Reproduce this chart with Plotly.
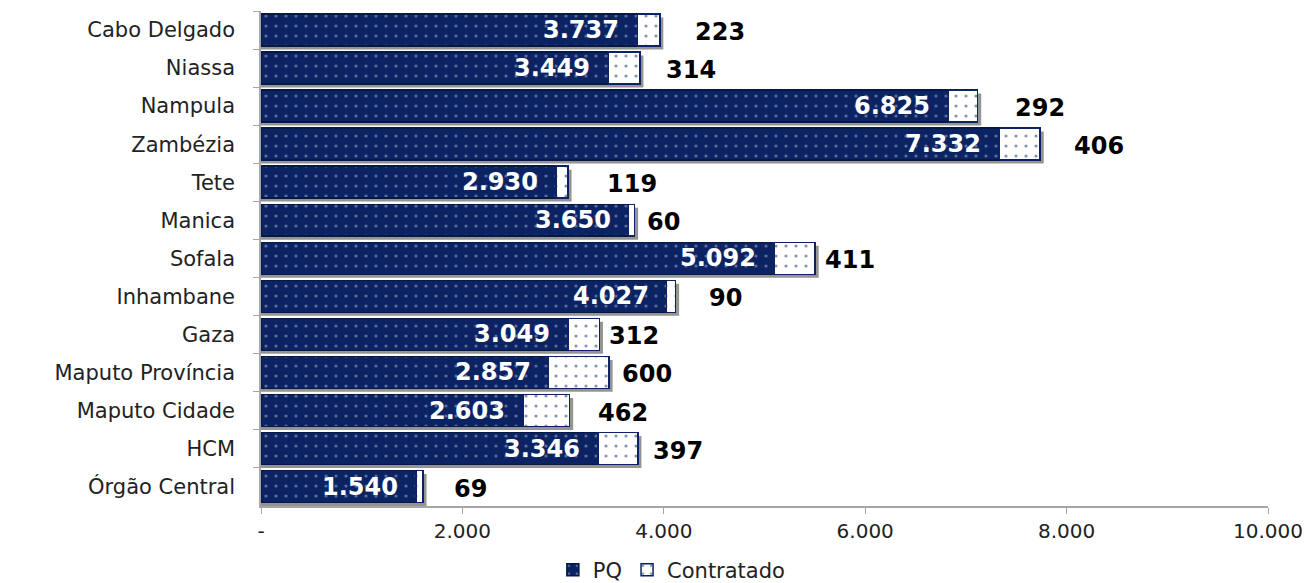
import plotly.graph_objects as go

# Budget by province: PQ allocation and contracted amount
categories = ["Cabo Delgado", "Niassa", "Nampula", "Zambézia", "Tete", "Manica",
              "Sofala", "Inhambane", "Gaza", "Maputo Província", "Maputo Cidade",
              "HCM", "Órgão Central"]
pq = [3737, 3449, 6825, 7332, 2930, 3650, 5092, 4027, 3049, 2857, 2603, 3346, 1540]
contratado = [223, 314, 292, 406, 119, 60, 411, 90, 312, 600, 462, 397, 69]

tick_vals = [0, 2000, 4000, 6000, 8000, 10000]
tick_text = ["-", "2.000", "4.000", "6.000", "8.000", "10.000"]

# pixel gap between the end of each bar and its "Contratado" label
label_gap = [33, 24, 35, 32, 37, 10, 8, 31, 8, 11, 26, 13, 29]

NAVY = "#0b2363"
FONT = "DejaVu Sans"
BAR_W = 0.84


def fmt(v):
    return f"{v:,}".replace(",", ".")


fig = go.Figure()
fig.add_trace(go.Bar(
    y=categories, x=pq, orientation="h", name="PQ", width=BAR_W,
    marker=dict(color=NAVY, line=dict(color="#061846", width=1.5),
                pattern=dict(shape=".", fgcolor="#aeb8d6", bgcolor=NAVY,
                             size=10, solidity=0.08)),
))
fig.add_trace(go.Bar(
    y=categories, x=contratado, orientation="h", name="Contratado", width=BAR_W,
    marker=dict(color="white", line=dict(color=NAVY, width=1.5),
                pattern=dict(shape=".", fgcolor=NAVY, bgcolor="white",
                             size=10, solidity=0.08)),
))

shapes = []
annotations = []
for i, (cat, a, b) in enumerate(zip(categories, pq, contratado)):
    total = a + b
    # soft drop shadow behind each bar
    shapes.append(dict(type="rect", xref="x", yref="y", layer="below",
                       x0=0, x1=total + 35, y0=i - BAR_W / 2 + 0.09,
                       y1=i + BAR_W / 2 + 0.09,
                       fillcolor="rgba(60,60,60,0.55)", line=dict(width=0)))
    annotations.append(dict(x=a, y=cat, text=f"<b>{fmt(a)}</b>", showarrow=False,
                            xanchor="right", xshift=-16,
                            font=dict(family=FONT, size=24, color="white")))
    annotations.append(dict(x=total, y=cat, text=f"<b>{fmt(b)}</b>", showarrow=False,
                            xanchor="left", xshift=label_gap[i], yshift=-2,
                            font=dict(family=FONT, size=24, color="black")))

fig.update_layout(
    barmode="stack",
    width=1314, height=583,
    margin=dict(l=261, r=46, t=11, b=77, autoexpand=False),
    paper_bgcolor="white", plot_bgcolor="white",
    font=dict(family=FONT, size=20, color="#222222"),
    shapes=shapes, annotations=annotations,
    legend=dict(orientation="h", x=0.408, xanchor="center", y=-0.088, yanchor="top",
                font=dict(family=FONT, size=21, color="#222222"),
                itemwidth=30, traceorder="normal"),
    xaxis=dict(range=[0, 10000], tickvals=tick_vals, ticktext=tick_text,
               showgrid=False, zeroline=False, showline=True,
               linecolor="#a6a6a6", linewidth=1.5, ticks="outside",
               tickcolor="#a6a6a6", ticklen=6, tickfont=dict(size=20)),
    yaxis=dict(autorange="reversed", showgrid=False, showline=True,
               linecolor="#a6a6a6", linewidth=1.5, ticks="outside",
               tickson="boundaries", tickcolor="#a6a6a6", ticklen=6,
               tickfont=dict(size=21), ticksuffix="   "),
)

fig.write_html("out.html")
